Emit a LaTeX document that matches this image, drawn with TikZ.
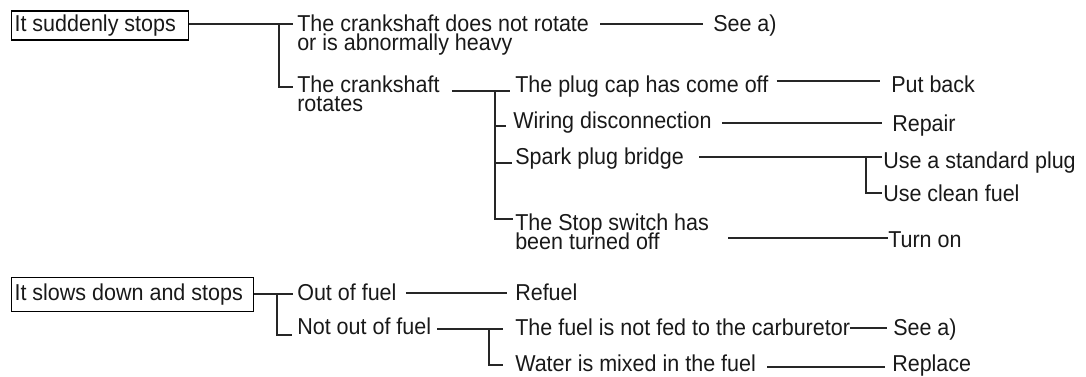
\documentclass[tikz,border=0pt]{standalone}
\usepackage{fontspec}
\setmainfont{Liberation Sans}[FakeStretch=0.935]
\usetikzlibrary{calc}
\newcommand\twoln[2]{\vtop{\lineskiplimit=-30pt\hbox{#1}\hbox{#2}}}
\begin{document}
\begin{tikzpicture}[x=0.75pt,y=-0.75pt,
  every node/.style={font=\fontsize{17.25pt}{14.25pt}\selectfont, text=black!90},
  txt/.style={inner sep=0pt, anchor=base west},
  boxnode/.style={draw, line width=0.8pt, anchor=north west, inner xsep=2.25pt, inner ysep=0pt},
  conn/.style={line width=0.8pt, black!85}]
\useasboundingbox (0,0) rectangle (1086,377);

% ---------- tree 1 ----------
\node[boxnode, minimum height=21.75pt] (b1) at (11,10.5) {\makebox[128.25pt][l]{It suddenly stops}};
\node[txt] (c1) at (297,31.5) {\twoln{The crankshaft does not rotate}{or is abnormally heavy}};
\node[txt] (a1) at (713,31.5) {See a)};
\node[txt] (r1) at (297,93) {\twoln{The crankshaft}{rotates}};
\node[txt] (pc) at (515,93) {The plug cap has come off};
\node[txt] (pb) at (891,93) {Put back};
\node[txt] (wd) at (513,129) {Wiring disconnection};
\node[txt] (rp) at (892,131.5) {Repair};
\node[txt] (sp) at (515,165) {Spark plug bridge};
\node[txt] (us) at (883,169) {Use a standard plug};
\node[txt] (uc) at (883,202) {Use clean fuel};
\node[txt] (ss) at (515,231) {\twoln{The Stop switch has}{been turned off}};
\node[txt] (to) at (888,248) {Turn on};

\coordinate (j1) at ($(c1.base west)+(-18,-7.5)$);
\draw[conn] (b1.east |- j1) -- ($(c1.base west)+(-4,-7.5)$);
\draw[conn] (j1) |- ($(r1.base west)+(-4,-6)$);
\draw[conn] ($(c1.base east)+(11,-7.5)$) -- ($(a1.base west)+(-10,-7.5)$);

\coordinate (j2) at ($(pc.base west)+(-20,-2)$);
\draw[conn] ($(r1.base east)+(12,-2)$) -- ($(pc.base west)+(-5,-2)$);
\draw[conn] (j2) |- ($(wd.base west)+(-7,-3)$);
\draw[conn] (j2) |- ($(sp.base west)+(-3,-2)$);
\draw[conn] (j2) |- ($(ss.base west)+(-2,-12)$);

\draw[conn] ($(pc.base east)+(8,-12)$) -- ($(pb.base west)+(-11,-12)$);
\draw[conn] ($(wd.base east)+(10,-6)$) -- ($(rp.base west)+(-10,-8.5)$);

\coordinate (j3) at ($(us.base west)+(-17,-12)$);
\draw[conn] ($(sp.base east)+(15,-8)$) -- ($(us.base west)+(-1,-12)$);
\draw[conn] (j3) |- ($(uc.base west)+(-1,-9)$);

\draw[conn] ($(ss.base east)+(19,7)$) -- ($(to.base west)+(0,-10)$);

% ---------- tree 2 ----------
\node[boxnode, minimum height=25.5pt] (b2) at (11,277) {\makebox[177pt][l]{It slows down and stops}};
\node[txt] (of) at (297,301) {Out of fuel};
\node[txt] (rf) at (515,301) {Refuel};
\node[txt] (nf) at (297,335) {Not out of fuel};
\node[txt] (ff) at (515,336) {The fuel is not fed to the carburetor};
\node[txt] (sa) at (893,336) {See a)};
\node[txt] (wm) at (515,371.5) {Water is mixed in the fuel};
\node[txt] (rl) at (892,371.5) {Replace};

\coordinate (j4) at ($(of.base west)+(-20,-7)$);
\draw[conn] (b2.east |- j4) -- ($(of.base west)+(-4,-7)$);
\draw[conn] (j4) |- ($(nf.base west)+(-5,0)$);
\draw[conn] ($(of.base east)+(9,-8)$) -- ($(rf.base west)+(-8,-8)$);

\coordinate (j5) at ($(ff.base west)+(-26,-7)$);
\draw[conn] ($(nf.base east)+(6,-6)$) -- ($(ff.base west)+(-12,-7)$);
\draw[conn] (j5) |- ($(wm.base west)+(-12,-6.5)$);
\draw[conn] ($(ff.base east)+(0,-8)$) -- ($(sa.base west)+(-6,-8)$);
\draw[conn] ($(wm.base east)+(11,-4.5)$) -- ($(rl.base west)+(-7,-4.5)$);
\end{tikzpicture}
\end{document}
